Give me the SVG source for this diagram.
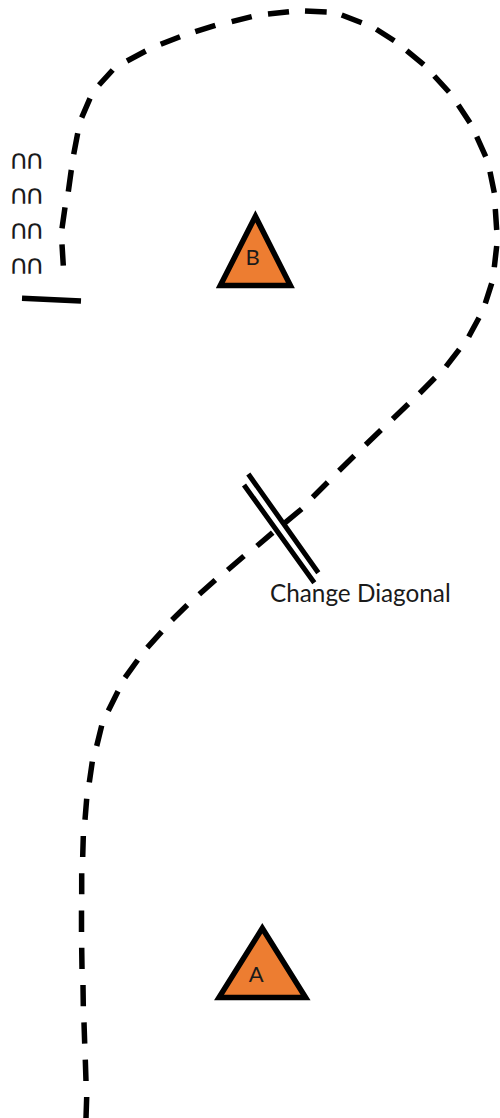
<svg xmlns="http://www.w3.org/2000/svg" width="500" height="1118" viewBox="0 0 500 1118">
<style>
.t{font-family:Lato,"Noto Sans",sans-serif;fill:#1a1a1a}
.m{font-family:"DejaVu Sans",sans-serif;fill:#1a1a1a;font-size:27px;letter-spacing:-3.800px}
.tri{fill:#ed7d31;stroke:#000;stroke-width:5.5;stroke-linejoin:miter;stroke-miterlimit:10}
.ln{fill:none;stroke:#000;stroke-width:5.500}
</style>
<rect width="500" height="1118" fill="#fff"/>
<g id="connectors">
<path id="route" class="ln" d="M86 1118L86.700 1097M86 1081L85.300 1059.700M84.700 1043.700L84 1022.300M83.300 1006.300L83 985M82 969L81.700 947.700M81.500 932L81.500 910.500M81.700 894.300L81.700 873.300M82.700 857L83.300 836M85 819.700L86.700 798.700M89.300 782.300L92.300 761.700M96.700 746L101.700 725.700M108.300 710.700L118 691.300M125 677.700L137.700 660M147.300 647.700L161.700 631.700M172 620L187.300 605M199.300 594.300L215.300 580M227.700 570L244 556M257 546L272.700 532.700M284.300 523.300L301.700 509M312.700 497.300L327.700 482.300M339 470.700L354.300 455.700M365.700 444.700L381 430M392.700 419L408.300 404M419.700 393.300L435 377.700M446 366.700L459.300 349.300M468.700 336.700L479 317.700M485.300 303.300L491.700 283.300M494.300 267.300L496.700 246M496.700 230L495.300 209M494.300 192.700L490 171.700M485.700 156.700L476.700 136.700M470 122.700L458.300 105M449 92L434.300 76M423.700 64.700L406.700 50.700M394.300 40.700L376.300 29.300M361.700 22.700L341.700 15M326.700 12L305 11M289 11.700L268 14M251.700 16.700L231.700 21.700M215.300 25.300L195.300 31.700M180 36.700L160.700 44.300M145.700 51L127 61M112.700 70L99 85M90 98.300L81.700 117.700M77.700 133.300L73.700 154.300M71.300 170L68.300 191.700M65 207.300L62 228.300M62 244.300L63.300 265.700"/>
<path id="stop-bar" class="ln" d="M22 298.300L81 301"/>
<path id="diagonal-mark" class="ln" style="stroke-width:5" d="M248.300 474L318.300 572.700M244 485L314.300 582.700"/>
</g>
<g id="node-b"><path class="tri" d="M255.400 216.300L290.400 285.600H220.300Z"/><text class="t" x="252.500" y="265" font-size="22" text-anchor="middle">B</text></g>
<g id="node-a"><path class="tri" d="M262.300 928.300L305.600 997.500H219Z"/><text class="t" x="256.300" y="982" font-size="22" text-anchor="middle">A</text></g>
<g id="label-change"><text class="t" x="270" y="601.500" font-size="24.300">Change Diagonal</text></g>
<g id="marks">
<text class="m" x="8.800" y="169">∩∩</text>
<text class="m" x="8.800" y="204">∩∩</text>
<text class="m" x="8.800" y="239">∩∩</text>
<text class="m" x="8.800" y="274">∩∩</text>
</g>
</svg>
